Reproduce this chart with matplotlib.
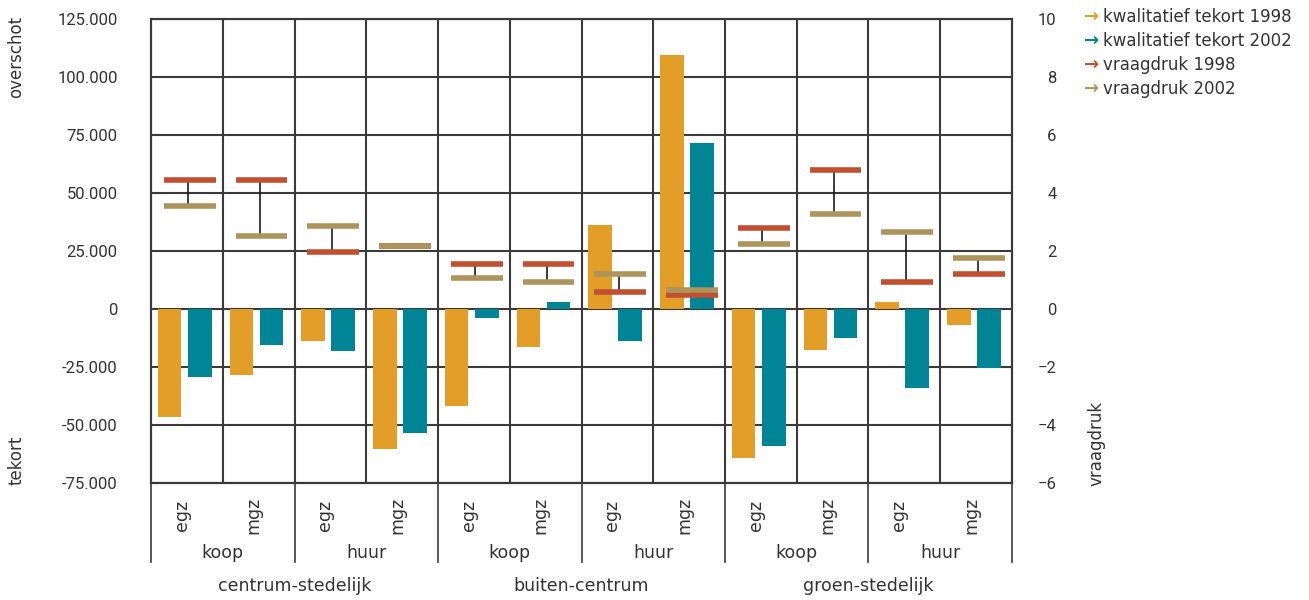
import matplotlib.pyplot as plt
from matplotlib.ticker import FuncFormatter
from matplotlib.transforms import blended_transform_factory

plt.rcParams['font.family'] = ['Roboto', 'DejaVu Sans']

# categorieën
woning = ['egz', 'mgz'] * 6
bezit = ['koop', 'huur'] * 3
milieu = ['centrum-stedelijk', 'buiten-centrum', 'groen-stedelijk']

# kwalitatief tekort (linker as)
tekort_1998 = [-46500, -28500, -13800, -60300, -41800, -16500,
               36200, 109500, -64200, -17700, 3000, -6700]
tekort_2002 = [-29300, -15500, -18100, -53400, -3900, 2900,
               -13800, 71500, -59000, -12500, -34000, -25400]

# vraagdruk (rechter as)
vraagdruk_1998 = [4.44, 4.44, 1.96, 2.16, 1.55, 1.54,
                  0.58, 0.48, 2.78, 4.78, 0.92, 1.20]
vraagdruk_2002 = [3.54, 2.51, 2.85, 2.16, 1.07, 0.92,
                  1.20, 0.64, 2.23, 3.27, 2.64, 1.75]

labels = ['kwalitatief tekort 1998', 'kwalitatief tekort 2002',
          'vraagdruk 1998', 'vraagdruk 2002']
kleuren = ['#E29E26', '#008597', '#C14F30', '#AD945A']
tekst = '#333333'
lijn = '#3a3a3a'
din = 'DejaVu Sans'

W, H = 1309, 600
fig = plt.figure(figsize=(W / 100, H / 100), dpi=100)
ax = fig.add_axes([151 / W, 1 - 483 / H, (1012 - 151) / W, (483 - 19) / H])

x = list(range(len(woning)))
ax.bar([i - 0.24 for i in x], tekort_1998, width=0.33, color=kleuren[0], zorder=2)
ax.bar([i + 0.18 for i in x], tekort_2002, width=0.33, color=kleuren[1], zorder=2)

ax.set_xlim(-0.5, 11.5)
ax.set_ylim(-75000, 125000)
ax.set_yticks(range(-75000, 125001, 25000))
ax.yaxis.set_major_formatter(FuncFormatter(lambda v, p: f'{int(v):,}'.replace(',', '.')))
ax.set_xticks([])
ax.grid(axis='y', color=lijn, lw=1.5, zorder=0)
for i in range(1, 12):
    ax.axvline(i - 0.5, color=lijn, lw=1.5, zorder=0)
ax.tick_params(axis='y', length=0, pad=24, labelsize=12, labelcolor=tekst)

ax2 = ax.twinx()
ax2.set_ylim(-6, 10)
ax2.set_yticks(range(-6, 11, 2))
ax2.tick_params(axis='y', length=0, pad=32, labelsize=12, labelcolor=tekst)
for t in ax2.get_yticklabels():
    t.set_ha('right')

for a in (ax, ax2):
    for s in a.spines.values():
        s.set_color(lijn)
        s.set_linewidth(1.5)

# vraagdruk markers met verbindingslijn
for i in x:
    ax2.plot([i + 0.02, i + 0.02], [vraagdruk_1998[i], vraagdruk_2002[i]],
             color='#1a1a1a', lw=1.2, zorder=3)
ax2.hlines(vraagdruk_1998, [i - 0.32 for i in x], [i + 0.40 for i in x],
           color=kleuren[2], lw=4, zorder=4)
ax2.hlines(vraagdruk_2002, [i - 0.32 for i in x], [i + 0.40 for i in x],
           color=kleuren[3], lw=4, zorder=5)

# categorie-as onderaan
tr = blended_transform_factory(ax.transData, fig.transFigure)
for i in x:
    ax.text(i - 0.07, 1 - 515 / H, woning[i], rotation=90, ha='center', va='center',
            fontsize=12.5, color=tekst, transform=tr, family=din)
for k in range(6):
    ax.text(2 * k + 0.5, 1 - 553 / H, bezit[k % 2], ha='center', va='center',
            fontsize=12.5, color=tekst, transform=tr, family=din)
for k in range(3):
    ax.text(4 * k + 1.5, 1 - 586 / H, milieu[k], ha='center', va='center',
            fontsize=12.5, color=tekst, transform=tr, family=din)
for b in range(7):
    ax.plot([2 * b - 0.5, 2 * b - 0.5], [1 - 483 / H, 1 - 562 / H], color=lijn,
            lw=1.2, transform=tr, clip_on=False)

# aslabels
fig.text(16 / W, 1 - 57 / H, 'overschot', rotation=90, ha='center', va='center',
         fontsize=12, color=tekst, family=din)
fig.text(16 / W, 1 - 460 / H, 'tekort', rotation=90, ha='center', va='center',
         fontsize=12, color=tekst, family=din)
fig.text(1096 / W, 1 - 443 / H, 'vraagdruk', rotation=90, ha='center', va='center',
         fontsize=12, color=tekst, family=din)

# legenda
for n, (lab, kl) in enumerate(zip(labels, kleuren)):
    y = 1 - (17 + 24 * n) / H
    fig.text(1084 / W, y, '→', color=kl, fontsize=13, fontweight='bold',
             ha='left', va='center', family=din)
    fig.text(1103 / W, y, lab, color=tekst, fontsize=12, ha='left', va='center',
             family=din)

fig.savefig('out.png', dpi=100)
